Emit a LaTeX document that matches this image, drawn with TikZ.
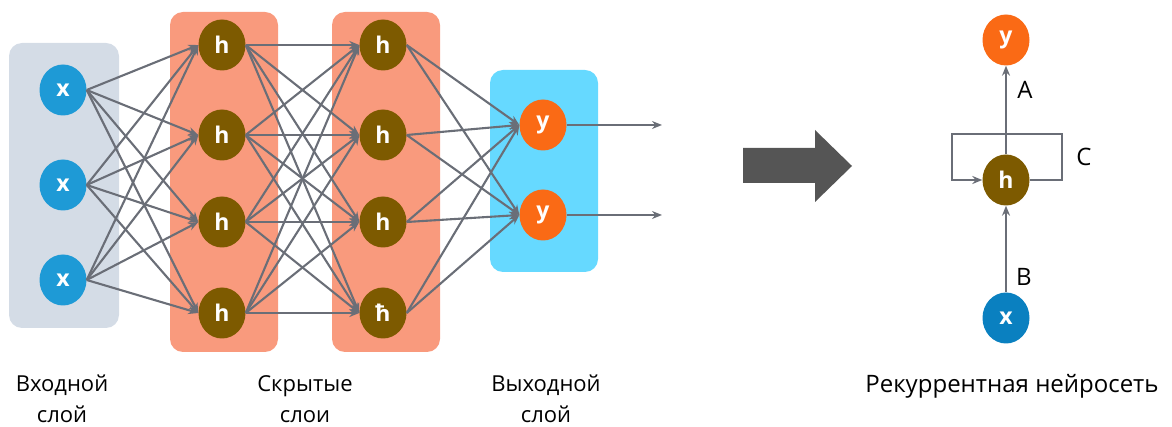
\documentclass[tikz,border=0pt]{standalone}
\usepackage{fontspec}
\setmainfont{Open Sans}
\usetikzlibrary{shapes.geometric,arrows.meta}
\definecolor{inbox}{HTML}{D4DCE6}
\definecolor{hidbox}{HTML}{F99A7D}
\definecolor{outbox}{HTML}{66D9FF}
\definecolor{xcol}{HTML}{1E9AD6}
\definecolor{xrnn}{HTML}{0A80C0}
\definecolor{hcol}{HTML}{7D5A00}
\definecolor{ycol}{HTML}{FA6A15}
\definecolor{edgecol}{HTML}{6A6E77}
\definecolor{bigarr}{HTML}{555555}
\tikzset{
  neuron/.style={ellipse,minimum width=47pt,minimum height=51pt,inner sep=0pt,text=white,font=\fontsize{23}{23}\selectfont\bfseries},
  xn/.style={neuron,fill=xcol},
  hn/.style={neuron,fill=hcol},
  yn/.style={neuron,fill=ycol},
  layerbox/.style={rounded corners=13pt},
  conn/.style={draw=edgecol,line width=2.1pt,-{Stealth[length=10pt,width=8pt]}},
  lbl/.style={align=center,font=\fontsize{22}{31}\selectfont,text=black},
  wlbl/.style={font=\fontsize{24}{24}\selectfont,text=black}
}
\begin{document}
\begin{tikzpicture}[x=1pt,y=-1pt]
\useasboundingbox (0,0) rectangle (1172,427);
% layer boxes
\fill[inbox,layerbox] (9,43) rectangle (119,328);
\fill[hidbox,layerbox] (170,12) rectangle (278,352);
\fill[hidbox,layerbox] (332,12) rectangle (440,352);
\fill[outbox,layerbox] (490,70) rectangle (598,272);
% nodes
\node[xn] (x1) at (63,90) {x};
\node[xn] (x2) at (63,185) {x};
\node[xn] (x3) at (63,280) {x};
\node[hn] (a1) at (222,45) {h};
\node[hn] (a2) at (222,135) {h};
\node[hn] (a3) at (222,222) {h};
\node[hn] (a4) at (222,313) {h};
\node[hn] (b1) at (383,45) {h};
\node[hn] (b2) at (383,135) {h};
\node[hn] (b3) at (383,222) {h};
\node[hn] (b4) at (383,313) {ħ};
\node[yn] (y1) at (543,125) {y};
\node[yn] (y2) at (543,215) {y};
\coordinate (o1) at (662,125);
\coordinate (o2) at (662,215);
% connections
\foreach \i in {1,2,3}{\foreach \j in {1,2,3,4}{\draw[conn] (x\i.east) -- (a\j.west);}}
\foreach \i in {1,2,3,4}{\foreach \j in {1,2,3,4}{\draw[conn] (a\i.east) -- (b\j.west);}}
\foreach \i in {1,2,3,4}{\foreach \j in {1,2}{\draw[conn] (b\i.east) -- (y\j.west);}}
\draw[conn] (y1.east) -- (o1);
\draw[conn] (y2.east) -- (o2);
% labels
\node[lbl] (l1) at (62,399) {Входной\\слой};
\node[lbl] (l2) at (305,399) {Скрытые\\слои};
\node[lbl] (l3) at (546,399) {Выходной\\слой};
% big arrow
\fill[bigarr] (743,148) -- (815,148) -- (815,130) -- (852,166) -- (815,202) -- (815,183) -- (743,183) -- cycle;
% RNN
\node[yn] (ry) at (1006,40) {y};
\node[hn] (rh) at (1006,180) {h};
\node[neuron,fill=xrnn] (rx) at (1006,318) {x};
\coordinate (c1) at (1062,180);
\coordinate (c2) at (1062,134);
\coordinate (c3) at (952,134);
\coordinate (c4) at (952,180);
\draw[edgecol,line width=2.1pt] (rh.north) -- (1006,134);
\draw[conn] (rh.east) -- (c1) -- (c2) -- (c3) -- (c4) -- (rh.west);
\draw[conn] (1006,134) -- (ry.south);
\draw[conn] (rx.north) -- (rh.south);
\node[wlbl] (la) at (1025,90) {A};
\node[wlbl] (lc) at (1084,157) {C};
\node[wlbl] (lb) at (1024,277) {B};
\node[wlbl] (lr) at (1012,386) {Рекуррентная нейросеть};
\end{tikzpicture}
\end{document}
